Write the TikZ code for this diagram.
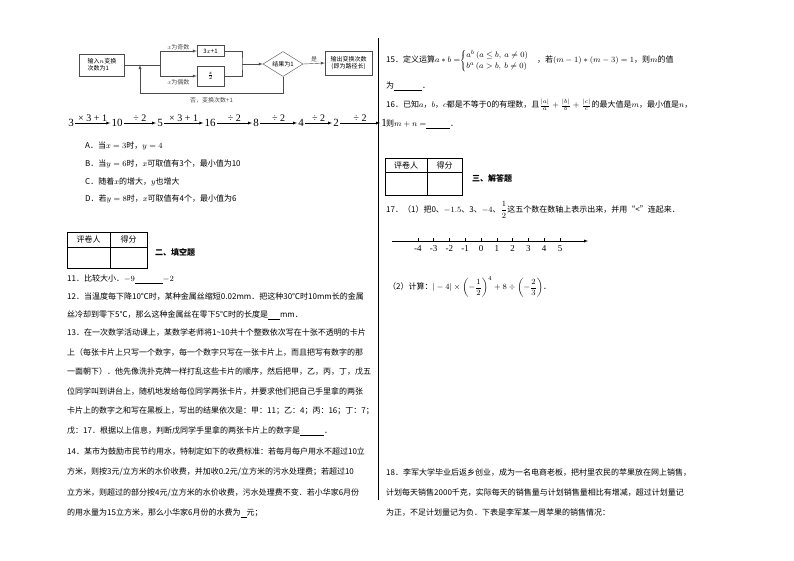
\documentclass[tikz,border=0pt]{standalone}
\usepackage{fontspec}
\usepackage{amsmath}
\setmainfont{Noto Sans CJK SC}
\newfontfamily\serif{Liberation Serif}
\usetikzlibrary{shapes.geometric}
\usetikzlibrary{positioning}
\usetikzlibrary{arrows,calc}
\newcommand{\blank}[1]{\underline{\hspace{#1}}}

\begin{document}
\begin{tikzpicture} [
       x=1pt, y=-1pt,
       txt/.style={anchor=west, inner sep=0pt, font=\fontsize{8}{9}\selectfont},
       tiny/.style={inner sep=1pt, font=\fontsize{6}{7}\selectfont},
       block/.style={draw=black!70, tiny, align=left},
       decide/.style={diamond, draw=black!70, tiny, inner sep=0pt, aspect=1.6,
               minimum width=40pt, minimum height=25pt},
       num/.style={inner sep=1pt, font=\serif\fontsize{11}{12}\selectfont},
       step label/.style={above, inner sep=1pt, font=\serif\fontsize{10}{11}\selectfont},
       line/.style={draw, black!70, -latex},
       flow/.style={draw, black!70},
       ]
       \useasboundingbox (0,0) rectangle (794,560);
       \fill[white] (0,0) rectangle (794,560);
       % flowchart
       \node (start) [block, minimum width=45pt, minimum height=22pt] at (102,65) {输入$n$变换\\次数为1};
       \node (odd) [block, align=center, minimum width=27pt, minimum height=11pt] at (210.5,51) {3$x$+1};
       \node (even) [block, align=center, minimum width=27pt, minimum height=20pt] at (210.5,76) {$\frac{x}{2}$};
       \node (test) [decide] at (283,64) {结果为1};
       \node (result) [block, align=center, minimum width=47pt, minimum height=24pt] at (348.5,63) {输出变换次数\\(即为路径长)};
       \coordinate (split) at (160,65);
       \coordinate (join) at (242,64);
       \coordinate (back) at (140,93);
       \path[flow] (start.east) -- (split);
       \path[flow] (split |- odd) -- (split |- even);
       \path[line] (split |- odd) -- node[tiny, above] {$x$为奇数} (odd.west);
       \path[line] (split |- even) -- node[tiny, below=2pt] {$x$为偶数} (even.west);
       \path[flow] (odd.east) -| (join) |- (even.east);
       \path[line] (join) -- (test.west);
       \path[line] (test.east) -- node[tiny, above] {是} (result.west);
       \path[line] (test.south) |- node[tiny, below=3pt, pos=0.75] {否，变换次数+1} (back) -- (back |- split);
       % chain of steps
       \node (n0) [num] at (71,123) {3};
       \node (n1) [num] at (117,123) {10};
       \node (n2) [num] at (160,123) {5};
       \node (n3) [num] at (210,123) {16};
       \node (n4) [num] at (256,123) {8};
       \node (n5) [num] at (301,123) {4};
       \node (n6) [num] at (336,123) {2};
       \node (n7) [num] at (384,123) {1};
       \path[line, black] (n0) -- node[step label] {× 3 + 1} (n1);
       \path[line, black] (n1) -- node[step label] {÷ 2} (n2);
       \path[line, black] (n2) -- node[step label] {× 3 + 1} (n3);
       \path[line, black] (n3) -- node[step label] {÷ 2} (n4);
       \path[line, black] (n4) -- node[step label] {÷ 2} (n5);
       \path[line, black] (n5) -- node[step label] {÷ 2} (n6);
       \path[line, black] (n6) -- node[step label] {÷ 2} (n7);
       % divider
       \draw (378,38) -- (378,500);
       % left column
       \node (optA) [txt] at (85,146) {A．当$x=3$时，$y=4$};
       \node (optB) [txt] at (85,164) {B．当$y=6$时，$x$可取值有3个，最小值为10};
       \node (optC) [txt] at (85,182) {C．随着$x$的增大，$y$也增大};
       \node (optD) [txt] at (85,199) {D．若$y=8$时，$x$可取值有4个，最小值为6};
       \draw[thick] (67,232) rectangle (147,268);
       \draw[thick] (110,232) -- (110,268) (67,247) -- (147,247);
       \node (graderA) [txt, anchor=center] at (88.5,239.5) {评卷人};
       \node (scoreA) [txt, anchor=center] at (128.5,239.5) {得分};
       \node (partA) [txt, font=\fontsize{8}{9}\selectfont\bfseries] at (155,252) {二、填空题};
       \node (q11) [txt] at (67,279) {11．比较大小．$-9$\blank{28pt}$-2$};
       \node (q12a) [txt] at (67,297) {12．当温度每下降10℃时，某种金属丝缩短0.02mm．把这种30℃时10mm长的金属};
       \node (q12b) [txt] at (67,315) {丝冷却到零下5℃，那么这种金属丝在零下5℃时的长度是\blank{12pt}mm．};
       \node (q13a) [txt] at (67,333) {13．在一次数学活动课上，某数学老师将1\textasciitilde10共十个整数依次写在十张不透明的卡片};
       \node (q13b) [txt] at (67,352) {上（每张卡片上只写一个数字，每一个数字只写在一张卡片上，而且把写有数字的那};
       \node (q13c) [txt] at (67,371) {一面朝下）．他先像洗扑克牌一样打乱这些卡片的顺序，然后把甲，乙，丙，丁，戊五};
       \node (q13d) [txt] at (67,391) {位同学叫到讲台上，随机地发给每位同学两张卡片，并要求他们把自己手里拿的两张};
       \node (q13e) [txt] at (67,411) {卡片上的数字之和写在黑板上，写出的结果依次是：甲：11；乙：4；丙：16；丁：7；};
       \node (q13f) [txt] at (67,431) {戊：17．根据以上信息，判断戊同学手里拿的两张卡片上的数字是\blank{24pt}．};
       \node (q14a) [txt] at (67,452) {14．某市为鼓励市民节约用水，特制定如下的收费标准：若每月每户用水不超过10立};
       \node (q14b) [txt] at (67,472) {方米，则按3元/立方米的水价收费，并加收0.2元/立方米的污水处理费；若超过10};
       \node (q14c) [txt] at (67,493) {立方米，则超过的部分按4元/立方米的水价收费，污水处理费不变．若小华家6月份};
       \node (q14d) [txt] at (67,513) {的用水量为15立方米，那么小华家6月份的水费为\blank{6pt}元；};
       % right column
       \node (q15a) [txt] at (386,61) {15．定义运算$a*b=\scriptstyle\begin{cases} a^b\,(a\le b,\ a\ne 0)\\ b^a\,(a>b,\ b\ne 0)\end{cases}$，若$(m-1)*(m-3)=1$，则$m$的值};
       \node (q15b) [txt] at (386,86) {为\blank{28pt}．};
       \node (q16a) [txt] at (386,105) {16．已知$a$，$b$，$c$都是不等于0的有理数，且$\frac{|a|}{a}+\frac{|b|}{b}+\frac{|c|}{c}$的最大值是$m$，最小值是$n$，};
       \node (q16b) [txt] at (386,124) {则$m+n=$\blank{24pt}．};
       \draw[thick] (385,158) rectangle (462,195);
       \draw[thick] (427,158) -- (427,195) (385,172) -- (462,172);
       \node (graderB) [txt, anchor=center] at (406,165) {评卷人};
       \node (scoreB) [txt, anchor=center] at (444.5,165) {得分};
       \node (partB) [txt, font=\fontsize{8}{9}\selectfont\bfseries] at (472,178) {三、解答题};
       \node (q17a) [txt] at (386,210) {17．（1）把0、$-1.5$、3、$-4$、$\dfrac{1}{2}$这五个数在数轴上表示出来，并用“<”连起来．};
       \coordinate (axisL) at (392,241);
       \coordinate (axisR) at (588,241);
       \draw[-latex] (axisL) -- (axisR);
       \foreach \i in {-4,...,5} {
         \draw (481+15.8*\i,241) -- (481+15.8*\i,238);
         \node (tick\i) [inner sep=0pt, font=\serif\fontsize{9}{10}\selectfont] at (481+15.8*\i,249) {\i};
       }
       \node (q17b) [txt] at (388,287) {（2）计算：$|-4|\times\left(-\dfrac{1}{2}\right)^4+8\div\left(-\dfrac{2}{3}\right)$．};
       \node (q18a) [txt] at (386,473) {18．李军大学毕业后返乡创业，成为一名电商老板，把村里农民的苹果放在网上销售，};
       \node (q18b) [txt] at (386,493) {计划每天销售2000千克，实际每天的销售量与计划销售量相比有增减，超过计划量记};
       \node (q18c) [txt] at (386,513) {为正，不足计划量记为负．下表是李军某一周苹果的销售情况：};
\end{tikzpicture}
\end{document}
